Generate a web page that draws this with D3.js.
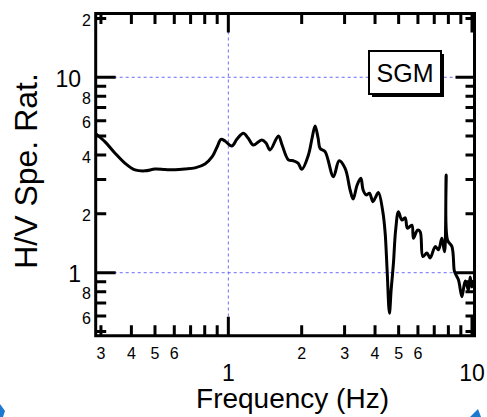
<!DOCTYPE html>
<html>
<head>
<meta charset="utf-8">
<script src="https://cdn.jsdelivr.net/npm/d3@7"></script>
<style>
  body { margin: 0; background: #fff; }
  svg { display: block; font-family: "Liberation Sans", Arial, sans-serif; }
</style>
</head>
<body>
<div id="chart"></div>
<script>
// H/V spectral ratio curve
var freq = [0.286, 0.312, 0.342, 0.376, 0.414, 0.455, 0.500, 0.550, 0.604, 0.664,
    0.730, 0.802, 0.857, 0.899, 0.933, 0.969, 1.033, 1.086, 1.152, 1.205,
    1.267, 1.371, 1.428, 1.483, 1.605, 1.662, 1.764, 1.849, 1.933, 2.002,
    2.131, 2.207, 2.270, 2.335, 2.380, 2.495, 2.699, 2.849, 3.015, 3.161,
    3.252, 3.378, 3.498, 3.574, 3.678, 3.795, 3.918, 4.005, 4.131, 4.306,
    4.401, 4.484, 4.583, 4.658, 4.760, 4.860, 4.990, 5.154, 5.318, 5.435,
    5.665, 5.752, 5.974, 6.128, 6.286, 6.530, 6.736, 7.063, 7.286, 7.523,
    7.711, 7.835, 7.932, 8.272, 8.453, 8.531, 8.804, 9.089, 9.378, 9.674,
    9.831, 9.99, 10.14];
var ratio = [5.13, 4.67, 4.10, 3.64, 3.36, 3.32, 3.39, 3.37, 3.36, 3.39,
    3.44, 3.60, 3.91, 4.40, 4.81, 4.72, 4.45, 4.83, 5.17, 4.89,
    4.50, 4.78, 4.61, 4.25, 5.01, 4.50, 3.78, 3.74, 3.64, 3.38,
    4.00, 4.89, 5.63, 4.89, 4.33, 4.16, 3.10, 3.74, 3.42, 2.65,
    2.38, 2.81, 3.04, 2.65, 2.50, 2.55, 2.31, 2.41, 2.57, 2.05,
    1.60, 1.03, 0.62, 0.816, 1.12, 1.65, 2.05, 1.86, 1.91, 1.69,
    1.75, 1.50, 1.65, 1.62, 1.21, 1.26, 1.19, 1.36, 1.31, 1.50,
    1.28, 3.16, 1.47, 1.36, 1.03, 0.993, 0.918, 0.754, 0.907, 0.816,
    0.950, 0.845, 0.918];

// ticks and labels
var xMinorTicks = [0.3, 0.4, 0.5, 0.6, 0.7, 0.8, 0.9, 2, 3, 4, 5, 6, 7, 8, 9];
var xMajorTicks = [1, 10];
var yMinorTicks = [0.5, 0.6, 0.7, 0.8, 0.9, 2, 3, 4, 5, 6, 7, 8, 9, 20];
var yMajorTicks = [1, 10];
var xSmallLabels = [0.3, 0.4, 0.5, 0.6, 2, 3, 4, 5, 6];
var xBigLabels = [1, 10];
var ySmallLabels = [20, 8, 6, 4, 2, 0.8, 0.6];
var yBigLabels = [10, 1];
var gridX = [1];
var gridY = [1, 10];
var legendLabel = "SGM";

function labelText(v) {
    // leading digit only, like the original
    return String(v).replace("0.", "").replace(/0$/, "");
}

const width = 487, height = 417;

let svg = d3.select('#chart').append('svg')
    .attr('width', width)
    .attr('height', height);

let x = d3.scaleLog().domain([0.2855, 10.24]).range([95.7, 474.5]);
let y = d3.scaleLog().domain([0.476, 21.2]).range([335.7, 13.5]);

const plotL = x.range()[0], plotR = x.range()[1];
const plotB = y.range()[0], plotT = y.range()[1];

// dashed grid lines
svg.selectAll('.gx').data(gridX).enter().append('line')
    .attr('x1', d => x(d)).attr('x2', d => x(d))
    .attr('y1', plotT).attr('y2', plotB)
    .attr('stroke', '#6a6aff').attr('stroke-width', 1)
    .attr('stroke-dasharray', '3,3');
svg.selectAll('.gy').data(gridY).enter().append('line')
    .attr('x1', plotL).attr('x2', plotR)
    .attr('y1', d => y(d)).attr('y2', d => y(d))
    .attr('stroke', '#6a6aff').attr('stroke-width', 1)
    .attr('stroke-dasharray', '3,3');

// curve
let line = d3.line()
    .x(d => x(d[0]))
    .y(d => y(d[1]))
    .curve(d3.curveCatmullRom.alpha(0.5));

svg.append('path')
    .datum(freq.map((f, i) => [f, ratio[i]]))
    .attr('d', line)
    .attr('fill', 'none')
    .attr('stroke', '#000')
    .attr('stroke-width', 3)
    .attr('stroke-linejoin', 'round');

// frame and inward ticks in one path
let p = d3.path();
p.rect(plotL, plotT, plotR - plotL, plotB - plotT);
function xTicks(vals, len) {
    vals.forEach(function(d) {
        let px = x(d);
        p.moveTo(px, plotB); p.lineTo(px, plotB - len);
        p.moveTo(px, plotT); p.lineTo(px, plotT + len);
    });
}
function yTicks(vals, lenL, lenR) {
    vals.forEach(function(d) {
        let py = y(d);
        p.moveTo(plotL, py); p.lineTo(plotL + lenL, py);
        p.moveTo(plotR, py); p.lineTo(plotR - lenR, py);
    });
}
xTicks(xMinorTicks, 10.5);
xTicks(xMajorTicks, 19);
yTicks(yMinorTicks, 10.5, 9);
yTicks(yMajorTicks, 20, 19);

svg.append('path')
    .attr('d', p.toString())
    .attr('fill', 'none')
    .attr('stroke', '#000')
    .attr('stroke-width', 3);

// tick labels
svg.selectAll('.xs').data(xSmallLabels).enter().append('text')
    .attr('x', d => x(d)).attr('y', 358.5)
    .attr('text-anchor', 'middle')
    .style('font-size', '16px')
    .text(labelText);
svg.selectAll('.xb').data(xBigLabels).enter().append('text')
    .attr('x', d => x(d)).attr('y', 381)
    .attr('text-anchor', 'middle')
    .style('font-size', '23px')
    .text(d => String(d));
svg.selectAll('.ys').data(ySmallLabels).enter().append('text')
    .attr('x', 91).attr('y', d => y(d) + 7.5)
    .attr('text-anchor', 'end')
    .style('font-size', '16px')
    .text(labelText);
svg.selectAll('.yb').data(yBigLabels).enter().append('text')
    .attr('x', 81).attr('y', d => y(d) + 9.5)
    .attr('text-anchor', 'end')
    .style('font-size', '23px')
    .text(d => String(d));

// axis titles
svg.append('text')
    .attr('x', 292.5).attr('y', 408)
    .attr('text-anchor', 'middle')
    .style('font-size', '28px')
    .text('Frequency (Hz)');
svg.append('text')
    .attr('transform', 'translate(37,171) rotate(-90)')
    .attr('text-anchor', 'middle')
    .style('font-size', '32px')
    .text('H/V Spe. Rat.');

// legend box with shadow
let lg = svg.append('g').attr('transform', 'translate(369,51)');
lg.append('rect')
    .attr('x', 3).attr('y', 3).attr('width', 72).attr('height', 43)
    .attr('fill', '#000');
lg.append('rect')
    .attr('x', 0).attr('y', 0).attr('width', 72).attr('height', 43)
    .attr('fill', '#fff').attr('stroke', '#000').attr('stroke-width', 2);
lg.append('text')
    .attr('x', 36).attr('y', 31)
    .attr('text-anchor', 'middle')
    .style('font-size', '25px')
    .text(legendLabel);

// blue corner marks
svg.append('path')
    .attr('d', 'M0,404 L5,411 L3,417 L0,417 Z')
    .attr('fill', '#1a7ad0');
svg.append('path')
    .attr('d', 'M470,417 L478,409 L481,417 Z')
    .attr('fill', '#1a7ad0');
</script>
</body>
</html>
